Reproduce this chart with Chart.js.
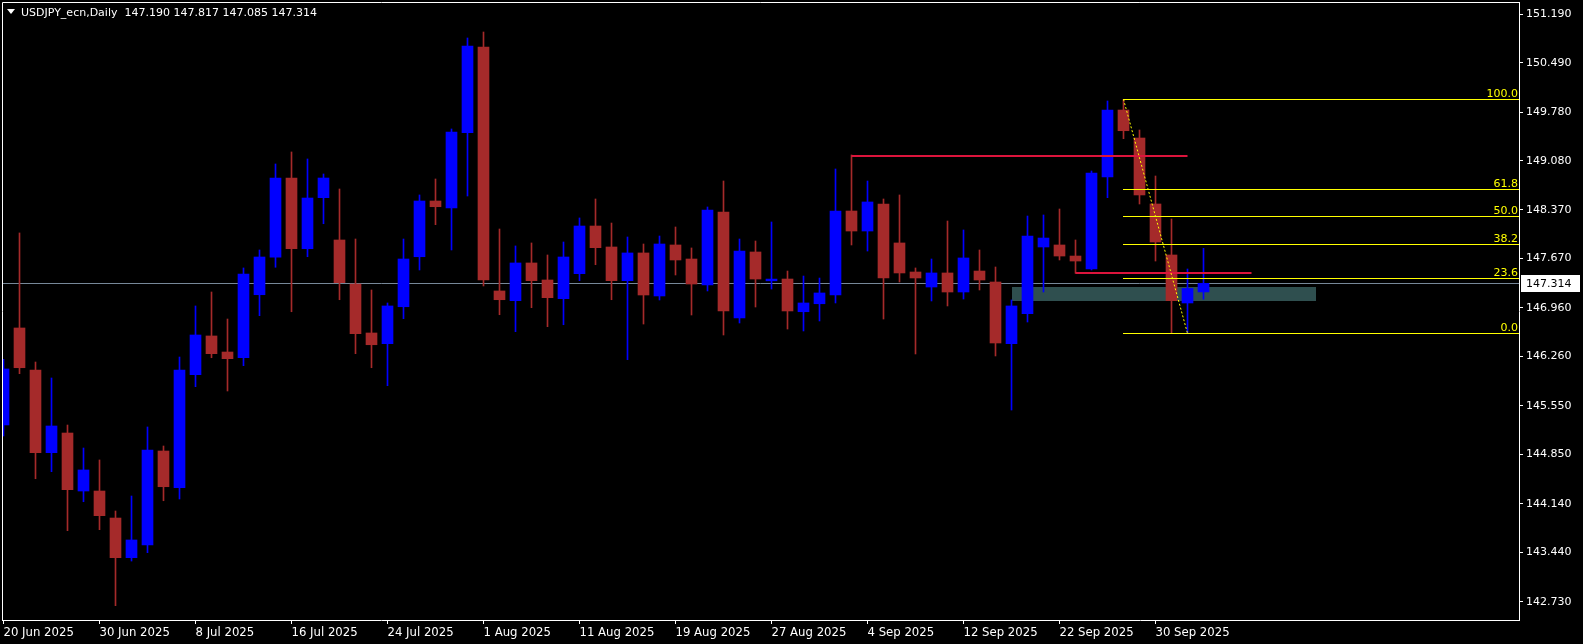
<!DOCTYPE html>
<html>
<head>
<meta charset="utf-8">
<script src="https://cdn.jsdelivr.net/npm/chart.js@4.4.1/dist/chart.umd.min.js"></script>
<style>
html,body{margin:0;padding:0;background:#000;}
canvas{display:block;}
</style>
</head>
<body>
<canvas id="c" width="1583" height="644"></canvas>
<script>
// ---- data ----
const dates = [
"20 Jun 2025","23 Jun 2025","24 Jun 2025","25 Jun 2025","26 Jun 2025","27 Jun 2025","30 Jun 2025",
"1 Jul 2025","2 Jul 2025","3 Jul 2025","4 Jul 2025","7 Jul 2025","8 Jul 2025","9 Jul 2025","10 Jul 2025",
"11 Jul 2025","14 Jul 2025","15 Jul 2025","16 Jul 2025","17 Jul 2025","18 Jul 2025","21 Jul 2025","22 Jul 2025",
"23 Jul 2025","24 Jul 2025","25 Jul 2025","28 Jul 2025","29 Jul 2025","30 Jul 2025","31 Jul 2025",
"1 Aug 2025","4 Aug 2025","5 Aug 2025","6 Aug 2025","7 Aug 2025","8 Aug 2025","11 Aug 2025","12 Aug 2025",
"13 Aug 2025","14 Aug 2025","15 Aug 2025","18 Aug 2025","19 Aug 2025","20 Aug 2025","21 Aug 2025","22 Aug 2025",
"25 Aug 2025","26 Aug 2025","27 Aug 2025","28 Aug 2025","29 Aug 2025",
"1 Sep 2025","2 Sep 2025","3 Sep 2025","4 Sep 2025","5 Sep 2025","8 Sep 2025","9 Sep 2025","10 Sep 2025",
"11 Sep 2025","12 Sep 2025","15 Sep 2025","16 Sep 2025","17 Sep 2025","18 Sep 2025","19 Sep 2025","22 Sep 2025",
"23 Sep 2025","24 Sep 2025","25 Sep 2025","26 Sep 2025","29 Sep 2025","30 Sep 2025",
"1 Oct 2025","2 Oct 2025","3 Oct 2025"];

const open = [145.275,146.671,146.066,144.876,145.159,144.324,144.324,143.935,143.364,143.547,
144.900,144.372,145.999,146.556,146.325,146.243,147.150,147.689,148.830,147.812,
148.547,147.938,147.304,146.599,146.445,146.977,147.697,148.499,148.398,149.483,
150.716,147.204,147.064,147.607,147.362,147.093,147.453,148.139,147.837,147.352,
147.751,147.132,147.866,147.664,147.290,148.341,146.815,147.765,147.350,147.376,
146.905,147.020,147.146,148.355,148.067,148.456,147.895,147.477,147.261,147.463,
147.189,147.491,147.333,146.445,146.877,147.837,147.866,147.707,147.520,148.845,
149.809,149.406,148.456,147.722,147.031,147.190];
const high = [146.220,148.039,146.181,145.951,145.274,144.943,144.771,144.036,144.252,145.246,
144.972,146.253,146.988,147.189,146.800,147.535,147.794,149.032,149.205,149.104,
148.888,148.672,147.952,147.218,147.031,147.952,148.586,148.816,149.536,150.846,
150.932,148.096,147.852,147.895,147.722,147.909,148.255,148.528,148.182,147.981,
147.880,147.995,148.125,147.823,148.413,148.787,147.952,147.923,148.197,147.491,
147.419,147.390,148.960,149.162,148.787,148.528,148.586,147.535,147.664,148.211,
148.082,147.794,147.549,147.074,148.283,148.298,148.384,147.938,148.931,149.939,
149.963,149.521,148.859,148.240,147.520,147.817];
const low = [145.116,146.013,144.501,144.602,143.753,144.170,143.767,142.673,143.316,143.436,
144.184,144.209,145.826,146.243,145.764,146.128,146.848,147.545,146.905,147.697,
148.172,147.078,146.301,146.099,145.840,146.805,147.506,148.158,147.794,148.571,
147.276,146.862,146.618,146.963,146.690,146.718,147.352,147.582,147.078,146.215,
146.728,147.074,147.434,146.858,147.204,146.570,146.743,146.973,147.232,146.656,
146.628,146.772,147.031,147.866,147.779,146.800,147.333,146.297,147.060,146.988,
147.088,147.218,146.268,145.490,146.757,147.189,147.650,147.458,147.506,148.547,
149.396,148.456,147.635,146.600,146.594,147.085];
const close = [146.081,146.099,144.876,145.260,144.343,144.627,143.969,143.364,143.619,144.914,
144.386,146.066,146.570,146.301,146.229,147.448,147.693,148.830,147.812,148.542,
148.830,147.323,146.589,146.430,146.988,147.664,148.499,148.417,149.493,150.731,
147.362,147.078,147.607,147.352,147.107,147.693,148.139,147.827,147.352,147.751,
147.146,147.880,147.650,147.304,148.370,146.916,147.779,147.376,147.375,146.916,
147.031,147.175,148.355,148.067,148.485,147.391,147.463,147.391,147.463,147.189,
147.679,147.362,146.455,146.988,147.995,147.966,147.707,147.635,148.902,149.809,
149.511,148.586,147.909,147.064,147.240,147.314];

const yTicks = [151.190,150.490,149.780,149.080,148.370,147.670,146.960,146.260,145.550,144.850,144.140,143.440,142.730];
const xTickIdx = [0,6,12,18,24,30,36,42,48,54,60,66,72];

const symbolTitle = "USDJPY_ecn,Daily";
const bidPrice = 147.314;
const fibLevels = [100.0, 61.8, 50.0, 38.2, 23.6, 0.0];
const fibHighIdx = 70, fibHighPrice = 149.963;
const fibLowIdx = 74, fibLowPrice = 146.594;
const redLines = [ {from:53, to:74, price:149.150}, {from:67, to:78, price:147.465} ];
const zone = {from:63, to:82, top:147.261, bottom:147.060};

// ---- colors ----
const BULL = '#0000FF', BEAR = '#A52A2A';
const barColors = close.map((c,i)=> c >= open[i] ? BULL : BEAR);

const wickData = dates.map((d,i)=>({x:i, y:[low[i], high[i]]}));
const bodyData = dates.map((d,i)=>({x:i, y:[open[i], close[i]]}));

const overlay = {
  id:'overlay',
  beforeDraw(chart){
    const c = chart.ctx; c.save(); c.fillStyle='#000'; c.fillRect(0,0,chart.width,chart.height); c.restore();
  },
  beforeDatasetsDraw(chart){
    const c = chart.ctx, x = chart.scales.x, y = chart.scales.y, a = chart.chartArea;
    c.save();
    c.beginPath(); c.rect(a.left, a.top, a.right-a.left, a.bottom-a.top); c.clip();
    c.fillStyle = '#2F4F4F';
    const zx1 = x.getPixelForValue(zone.from), zx2 = x.getPixelForValue(zone.to);
    const zy1 = y.getPixelForValue(zone.top), zy2 = y.getPixelForValue(zone.bottom);
    c.fillRect(Math.round(zx1), Math.round(zy1), Math.round(zx2-zx1), Math.round(zy2-zy1));
    const by = Math.round(y.getPixelForValue(bidPrice)) + 0.5;
    c.strokeStyle = '#778899'; c.lineWidth = 1;
    c.beginPath(); c.moveTo(a.left, by); c.lineTo(a.right, by); c.stroke();
    c.restore();
  },
  afterDatasetsDraw(chart){
    const c = chart.ctx, x = chart.scales.x, y = chart.scales.y, a = chart.chartArea;
    c.save();
    c.beginPath(); c.rect(a.left, a.top, a.right-a.left, a.bottom-a.top); c.clip();
    c.strokeStyle = '#DC143C'; c.lineWidth = 2;
    redLines.forEach(l=>{
      const py = Math.round(y.getPixelForValue(l.price));
      c.beginPath(); c.moveTo(x.getPixelForValue(l.from), py); c.lineTo(x.getPixelForValue(l.to), py); c.stroke();
    });
    const fx = Math.floor(x.getPixelForValue(fibHighIdx));
    c.strokeStyle = '#FFFF00'; c.lineWidth = 1;
    c.fillStyle = '#FFFF00';
    c.font = '11px "DejaVu Sans"'; c.textAlign = 'right'; c.textBaseline = 'alphabetic';
    fibLevels.forEach(lv=>{
      const p = fibLowPrice + (fibHighPrice - fibLowPrice) * lv / 100;
      const py = Math.round(y.getPixelForValue(p)) + 0.5;
      c.beginPath(); c.moveTo(fx, py); c.lineTo(a.right, py); c.stroke();
      c.fillText(lv.toFixed(1), a.right - 1, py - 2.5);
    });
    c.setLineDash([2,2]);
    c.beginPath();
    c.moveTo(x.getPixelForValue(fibHighIdx), y.getPixelForValue(fibHighPrice));
    c.lineTo(x.getPixelForValue(fibLowIdx), y.getPixelForValue(fibLowPrice));
    c.stroke();
    c.setLineDash([]);
    c.restore();

    c.save();
    c.strokeStyle = '#FFFFFF'; c.lineWidth = 1;
    c.beginPath();
    c.moveTo(a.left+0.5, a.bottom); c.lineTo(a.left+0.5, a.top+0.5); c.lineTo(a.right, a.top+0.5);
    c.stroke();
    c.fillStyle = '#FFFFFF';
    c.beginPath(); c.moveTo(7,9); c.lineTo(15,9); c.lineTo(11,14); c.closePath(); c.fill();
    c.font = '11px "DejaVu Sans"'; c.textAlign='left'; c.textBaseline='middle';
    const t = symbolTitle + '  ' + [open[75],high[75],low[75],close[75]].map(v=>v.toFixed(3)).join(' ');
    c.fillText(t, 21, 13);
    const py = Math.round(y.getPixelForValue(bidPrice));
    c.fillStyle = '#FFFFFF';
    c.fillRect(a.right+2, py-8, 59, 17);
    c.fillStyle = '#000000';
    c.fillText(bidPrice.toFixed(3), a.right+7, py+1);
    c.restore();
  }
};

new Chart(document.getElementById('c'), {
  type:'bar',
  data:{
    datasets:[
      {label:'wick', data:wickData, backgroundColor:barColors, borderWidth:0, barThickness:1, grouped:false, order:2},
      {label:'body', data:bodyData, backgroundColor:barColors, borderWidth:0, barThickness:11, grouped:false, order:1, minBarLength:1}
    ]
  },
  options:{
    responsive:false, animation:false,
    layout:{padding:{left:2, top:2, right:0, bottom:0}},
    plugins:{legend:{display:false}, tooltip:{enabled:false}, title:{display:false}},
    scales:{
      x:{
        type:'linear', min:-0.09375, max:94.71875, offset:false,
        afterBuildTicks(s){ s.ticks = xTickIdx.map(v=>({value:v})); },
        afterFit(s){ s.height = 24; s.paddingLeft = 0; s.paddingRight = 0; },
        grid:{display:true, drawOnChartArea:false, drawTicks:true, tickLength:4, color:'#FFFFFF', offset:false},
        border:{display:true, color:'#FFFFFF', width:1},
        ticks:{
          color:'#FFFFFF', align:'start', padding:1, maxRotation:0, autoSkip:false,
          font:{family:"'Liberation Sans Narrow','DejaVu Sans Condensed','Liberation Sans'", size:13},
          callback:(v)=> dates[v] || ''
        }
      },
      y:{
        position:'right', min:142.467, max:151.364, beginAtZero:false,
        afterBuildTicks(s){ s.ticks = yTicks.map(v=>({value:v})); },
        afterFit(s){ s.width = 64; s.paddingTop = 0; s.paddingBottom = 0; },
        grid:{display:true, drawOnChartArea:false, drawTicks:true, tickLength:4, color:'#FFFFFF'},
        border:{display:true, color:'#FFFFFF', width:1},
        ticks:{color:'#FFFFFF', padding:3, autoSkip:false, font:{family:"'DejaVu Sans'", size:11},
          callback:(v)=> Number(v).toFixed(3)}
      }
    }
  },
  plugins:[overlay]
});
</script>
</body>
</html>
